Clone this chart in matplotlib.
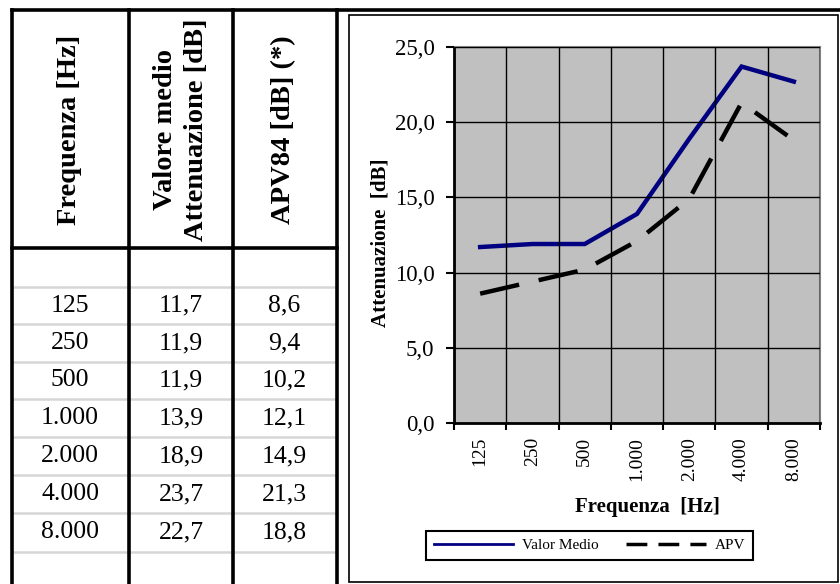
import numpy as np
import matplotlib.pyplot as plt
from matplotlib.lines import Line2D
from matplotlib.patches import Rectangle

# data
freq_labels = ['125', '250', '500', '1.000', '2.000', '4.000', '8.000']
valor_medio = [11.7, 11.9, 11.9, 13.9, 18.9, 23.7, 22.7]
apv84 = [8.6, 9.4, 10.2, 12.1, 14.9, 21.3, 18.8]
headers = ['Frequenza [Hz]', 'Valore medio\nAttenuazione [dB]', 'APV84 [dB] (*)']
y_ticks = [0, 5, 10, 15, 20, 25]

W, H = 840, 584
plt.rcParams['font.family'] = ['Liberation Serif', 'DejaVu Serif']
fig = plt.figure(figsize=(W / 100, H / 100), dpi=100)


def fx(x):
    return x / W


def fy(y):
    return 1 - y / H


def line(xs, ys, **kw):
    fig.add_artist(Line2D([fx(v) for v in xs], [fy(v) for v in ys], **kw))


def fmt(v):
    return f'{v:.1f}'.replace('.', ',')


# ---- table on the left ----
col_x = [12, 129, 233, 337]
col_c = [70, 181, 284]
sep_y = [287, 324, 362, 399, 437, 475, 513, 552]

for y in sep_y:
    line([12, 337], [y, y], color='#d6d6d6', lw=1.8)
for x in col_x:
    line([x, x], [10, 584], color='black', lw=2.6)
line([12, 840], [10, 10], color='black', lw=2.6)
line([12, 337], [248, 248], color='black', lw=2.6)

for c, h in zip(col_c, headers):
    fig.text(fx(c), fy(130), h, rotation=90, ha='center', va='center',
             fontsize=20.5, fontweight='bold', linespacing=1.3)

for i in range(len(freq_labels)):
    yc = (sep_y[i] + sep_y[i + 1]) / 2
    fig.text(fx(col_c[0]), fy(yc), freq_labels[i], ha='center', va='center', fontsize=18.5)
    fig.text(fx(col_c[1]), fy(yc), fmt(valor_medio[i]), ha='center', va='center', fontsize=18.5)
    fig.text(fx(col_c[2]), fy(yc), fmt(apv84[i]), ha='center', va='center', fontsize=18.5)

# ---- chart frame ----
fig.add_artist(Rectangle((fx(349), fy(582)), fx(838) - fx(349), fy(15) - fy(582),
                         fill=False, edgecolor='black', lw=1.2))

ax = fig.add_axes([fx(454), fy(423), fx(820) - fx(454), fy(47) - fy(423)])
ax.set_facecolor('#c0c0c0')

x = np.arange(len(freq_labels))
ax.plot(x, valor_medio, color='#000080', lw=3.2, solid_joinstyle='miter')
l2, = ax.plot(x, apv84, color='black', lw=3.2)
l2.set_dashes([9, 4.5])

ax.set_xlim(-0.5, len(freq_labels) - 0.5)
ax.set_ylim(0, 25)
ax.set_yticks(y_ticks)
ax.set_yticklabels([fmt(v) for v in y_ticks], fontsize=16.5)
ax.set_xticks(x)
ax.set_xticklabels(freq_labels, rotation=90, fontsize=14)
ax.set_xticks(np.arange(len(freq_labels) + 1) - 0.5, minor=True)
ax.tick_params(axis='x', which='major', length=0, pad=10)
ax.tick_params(axis='x', which='minor', length=5, width=1.5, direction='out')
ax.tick_params(axis='y', length=6, width=1.5, direction='out', pad=8)

ax.grid(axis='y', color='black', lw=1.0)
ax.grid(axis='x', which='minor', color='black', lw=1.0)
ax.set_axisbelow(False)
for s in ['left', 'bottom']:
    ax.spines[s].set_linewidth(2.0)
    ax.spines[s].set_color('black')
for s in ['right', 'top']:
    ax.spines[s].set_linewidth(1.5)
    ax.spines[s].set_color('#808080')

fig.text(fx(647), fy(507), 'Frequenza  [Hz]', ha='center', va='center',
         fontsize=15, fontweight='bold')
fig.text(fx(381), fy(243), 'Attenuazione  [dB]', ha='center', va='center',
         rotation=90, fontsize=15, fontweight='bold')

# legend
h1 = Line2D([], [], color='#000080', lw=2)
h2 = Line2D([], [], color='black', lw=2.5, dashes=[6, 3.2])
leg = fig.legend([h1, h2], ['Valor Medio', 'APV'], loc='center',
                 bbox_to_anchor=(fx(589.5), fy(545.5)), ncol=2, fontsize=11,
                 handlelength=5.2, handletextpad=0.6, columnspacing=1.8,
                 fancybox=False, framealpha=1, edgecolor='black',
                 borderpad=0.5)
leg.get_frame().set_linewidth(1.5)

plt.savefig('out.png', dpi=100)
